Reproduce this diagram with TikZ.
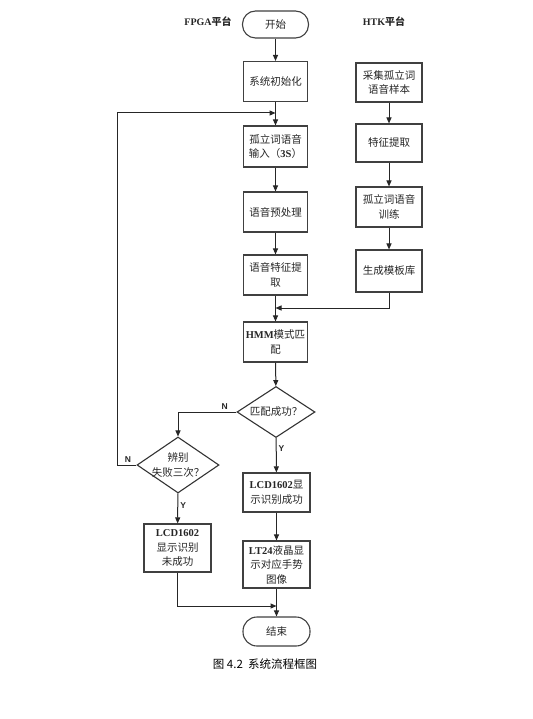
\documentclass[tikz,border=0pt]{standalone}
\usepackage{fontspec}
\setmainfont{Liberation Serif}
\newfontfamily\cjk{Noto Sans CJK SC}
\newfontfamily\lsans{Liberation Sans}
\usetikzlibrary{shapes.geometric,arrows.meta}
\newcommand{\zh}[1]{{\cjk #1}}
\begin{document}
\begin{tikzpicture}[x=1pt,y=-1pt,
  >={Triangle[length=6pt,width=5pt]},
  box/.style={draw=black!75, line width=1.1pt, fill=white, minimum width=64pt, minimum height=40pt,
    align=center, inner sep=1pt, text=black!85, font=\fontsize{10.5}{14.5}\selectfont},
  term/.style={box, rounded corners=13pt, minimum height=27pt, minimum width=66pt},
  dia/.style={draw=black!80, line width=1.1pt, diamond, inner sep=0pt},
  dtext/.style={align=center, inner sep=0pt, text=black!85, font=\fontsize{10.5}{14.5}\selectfont},
  line/.style={draw=black!85, line width=1pt},
  yn/.style={font=\lsans\bfseries\fontsize{8.5}{10}\selectfont, text=black!85, inner sep=2pt},
  head/.style={font=\bfseries\fontsize{10}{12}\selectfont, text=black!85}]
\useasboundingbox (0,0) rectangle (532,719);

% headings
\node[head] (hf) at (208,22) {FPGA{\cjk\bfseries 平台}};
\node[head] (hh) at (384,22) {HTK{\cjk\bfseries 平台}};

% main column
\node[term] (start) at (275.5,24.5) {\zh{开始}};
\node[box] (init) at (275.5,81.5) {\zh{系统初始化}};
\node[box, minimum height=41pt] (input) at (275.5,146.5) {\zh{孤立词语音}\\\zh{输入（}\textbf{3S}\zh{）}};
\node[box] (pre) at (275.5,212) {\zh{语音预处理}};
\node[box] (feat) at (275.5,275) {\zh{语音特征提}\\\zh{取}};
\node[box] (hmm) at (275.5,342) {\textbf{HMM}\zh{模式匹}\\\zh{配}};
\node[dia, minimum width=78pt, minimum height=51pt] (d1) at (276,412) {};
\node[dtext] (d1t) at (d1) {\zh{匹配成功？}};
\node[box, minimum width=67pt, minimum height=39pt] (ok) at (276.5,492.5) {\textbf{LCD1602}\zh{显}\\\zh{示识别成功}};
\node[box, minimum width=67pt, minimum height=47pt] (lt) at (276.5,564.5) {\textbf{LT24}\zh{液晶显}\\\zh{示对应手势}\\\zh{图像}};
\node[term, minimum width=67pt, minimum height=29pt, rounded corners=14pt] (end) at (276.5,631.5) {\zh{结束}};

% left branch
\node[dia, minimum width=82pt, minimum height=56pt] (d2) at (178,465) {};
\node[dtext] (d2t) at (d2) {\zh{辨别}\\\zh{失败三次？}};
\node[box, minimum width=67pt, minimum height=48pt] (fail) at (177.5,548) {\textbf{LCD1602}\\\zh{显示识别}\\\zh{未成功}};

% HTK column
\node[box, minimum width=66pt, minimum height=39pt] (samp) at (389,82.5) {\zh{采集孤立词}\\\zh{语音样本}};
\node[box, minimum width=66pt, minimum height=38pt] (fx) at (389,143) {\zh{特征提取}};
\node[box, minimum width=66pt] (train) at (389,207) {\zh{孤立词语音}\\\zh{训练}};
\node[box, minimum width=66pt, minimum height=42pt] (templ) at (389,271) {\zh{生成模板库}};

% helper coordinates
\coordinate (y113) at (0,113);
\coordinate (y308) at (0,308);
\coordinate (y606) at (0,606);
\coordinate (lp1) at (117,113);
\coordinate (lp2) at (input.north |- y113);
\coordinate (m1) at (feat.south |- y308);
\coordinate (m2) at (lt.south |- y606);

% connectors
\draw[line,->] (start) -- (init);
\draw[line,->] (init) -- (input);
\draw[line,->] (input) -- (pre);
\draw[line,->] (pre) -- (feat);
\draw[line,->] (feat) -- (hmm);
\draw[line,->] (hmm) -- (d1);
\draw[line,->] (d1) -- node[yn, right, pos=0.3] (y1) {Y} (ok);
\draw[line,->] (ok) -- (lt);
\draw[line,->] (lt) -- (end);
\draw[line,->] (d1.west) -| node[yn, above, pos=0.1] (n1) {N} (d2.north);
\draw[line,->] (d2) -- node[yn, right, pos=0.4] (y2) {Y} (fail);
\draw[line,->] (d2.west) -| node[yn, above, pos=0.22] (n2) {N} (lp1) -- (lp2);
\draw[line,->] (fail.south) |- (m2);

\draw[line,->] (samp) -- (fx);
\draw[line,->] (fx) -- (train);
\draw[line,->] (train) -- (templ);
\draw[line,->] (templ.south) |- (m1);

% caption
\node[font=\cjk\fontsize{11.5}{13}\selectfont, text=black] (cap) at (265,664) {图 4.2 \ 系统流程框图};
\end{tikzpicture}
\end{document}
